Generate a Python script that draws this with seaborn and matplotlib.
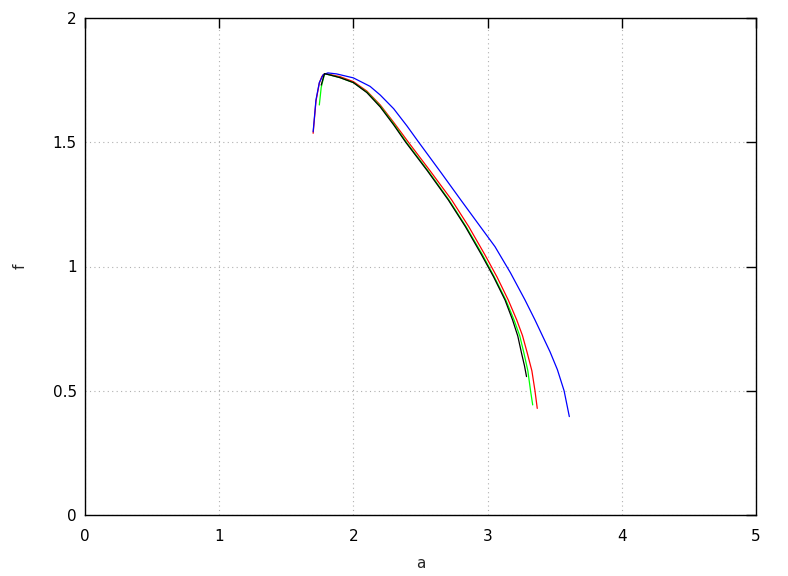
import matplotlib
matplotlib.use("Agg")
import matplotlib.pyplot as plt
import seaborn as sns
import pandas as pd

# Data
red_a = [1.700, 1.721, 1.746, 1.765, 1.785, 1.830, 1.900, 2.000, 2.100, 2.200, 2.300, 2.410, 2.570, 2.732, 2.860, 2.980, 3.070, 3.154, 3.217, 3.260, 3.296, 3.330, 3.353, 3.370]
red_f = [1.536, 1.665, 1.738, 1.765, 1.776, 1.772, 1.764, 1.744, 1.706, 1.650, 1.580, 1.500, 1.386, 1.268, 1.160, 1.047, 0.958, 0.865, 0.785, 0.722, 0.651, 0.580, 0.500, 0.429]

green_a = [1.746, 1.760, 1.785, 1.830, 1.900, 2.000, 2.105, 2.205, 2.305, 2.395, 2.555, 2.712, 2.840, 2.962, 3.050, 3.136, 3.197, 3.240, 3.271, 3.300, 3.320, 3.336]
green_f = [1.650, 1.720, 1.776, 1.770, 1.760, 1.740, 1.700, 1.642, 1.570, 1.500, 1.386, 1.268, 1.160, 1.047, 0.958, 0.865, 0.785, 0.720, 0.651, 0.580, 0.500, 0.443]

blue_a = [1.700, 1.721, 1.746, 1.775, 1.810, 1.875, 2.000, 2.124, 2.200, 2.300, 2.400, 2.480, 2.650, 2.800, 2.930, 3.055, 3.170, 3.279, 3.353, 3.465, 3.520, 3.570, 3.609]
blue_f = [1.542, 1.670, 1.740, 1.772, 1.779, 1.775, 1.759, 1.725, 1.690, 1.635, 1.565, 1.505, 1.380, 1.268, 1.172, 1.080, 0.975, 0.865, 0.785, 0.657, 0.585, 0.500, 0.396]

black_a = [1.760, 1.785, 1.830, 1.900, 2.000, 2.100, 2.200, 2.300, 2.390, 2.550, 2.707, 2.835, 2.955, 3.045, 3.130, 3.186, 3.225, 3.253, 3.275, 3.290]
black_f = [1.730, 1.776, 1.770, 1.760, 1.740, 1.700, 1.642, 1.570, 1.500, 1.386, 1.268, 1.160, 1.047, 0.958, 0.865, 0.785, 0.720, 0.651, 0.600, 0.557]

series_names = ["s1", "s2", "s3", "s4"]
series_colors = ["#ff0000", "#00ff00", "#0000ff", "#000000"]

frames = []
for name, a, f in zip(series_names, [red_a, green_a, blue_a, black_a], [red_f, green_f, blue_f, black_f]):
    frames.append(pd.DataFrame({"a": a, "f": f, "series": name}))
df = pd.concat(frames, ignore_index=True)

sns.set_style("white")
plt.rcParams["font.family"] = ["DejaVu Sans"]

fig = plt.figure(figsize=(7.88, 5.76), dpi=100)
ax = fig.add_axes([85 / 788, 1 - 515 / 576, (756 - 85) / 788, (515 - 18) / 576])

for name, col in zip(series_names, series_colors):
    sub = df[df["series"] == name]
    sns.lineplot(data=sub, x="a", y="f", sort=False, estimator=None, color=col,
                 linewidth=0.9, ax=ax, legend=False)

ax.set_xlim(0, 5)
ax.set_ylim(0, 2)
ax.set_xticks([0, 1, 2, 3, 4, 5])
ax.set_yticks([0, 0.5, 1, 1.5, 2])
ax.set_xticklabels(["0", "1", "2", "3", "4", "5"])
ax.set_yticklabels(["0", "0.5", "1", "1.5", "2"])
ax.grid(True, color="#b0b0b0", linestyle=(0, (1, 3)), linewidth=0.8)
ax.tick_params(direction="in", length=7, width=1, top=True, right=True,
               labelsize=11, colors="black")
ax.tick_params(axis="x", pad=10)
ax.tick_params(axis="y", pad=6)
for sp in ax.spines.values():
    sp.set_color("black")
    sp.set_linewidth(1)
ax.set_xlabel("a", fontsize=11, labelpad=9)
ax.set_ylabel("f", fontsize=11, labelpad=18)

fig.savefig("out.png", dpi=100)
